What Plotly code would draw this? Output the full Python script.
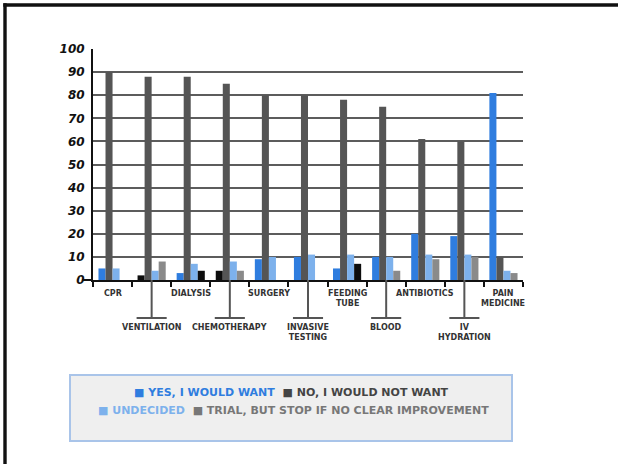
import plotly.graph_objects as go

categories = ["CPR", "VENTILATION", "DIALYSIS", "CHEMOTHERAPY", "SURGERY",
              "INVASIVE<br>TESTING", "FEEDING<br>TUBE", "BLOOD", "ANTIBIOTICS",
              "IV<br>HYDRATION", "PAIN<br>MEDICINE"]
yes_vals = [5, 2, 3, 4, 9, 10, 5, 10, 20, 19, 81]
no_vals = [90, 88, 88, 85, 80, 80, 78, 75, 61, 60, 10]
undecided_vals = [5, 4, 7, 8, 10, 11, 11, 10, 11, 11, 4]
trial_vals = [0, 8, 4, 4, 0, 0, 7, 4, 9, 10, 3]
y_ticks = [0, 10, 20, 30, 40, 50, 60, 70, 80, 90, 100]

C_YES = "#2f7ddf"
C_NO = "#555555"
C_UND = "#7db1ec"
C_TRIAL = "#8a8a8a"
C_BLACK = "#0d0d0d"

# some bars render black in the reference
black_yes = {1, 3}
black_trial = {2, 6}
yes_colors = [C_BLACK if i in black_yes else C_YES for i in range(len(categories))]
trial_colors = [C_BLACK if i in black_trial else C_TRIAL for i in range(len(categories))]

# plot-area geometry (pixels)
L, R, T, B = 93, 523, 49, 280
W, H = 618, 464


def px2x(px):
    return (px - L) / (R - L)


def py2y(py):
    return (B - py) / (B - T)


fig = go.Figure()
for name, vals, col in [("YES, I WOULD WANT", yes_vals, yes_colors),
                        ("NO, I WOULD NOT WANT", no_vals, C_NO),
                        ("UNDECIDED", undecided_vals, C_UND),
                        ("TRIAL, BUT STOP IF NO CLEAR IMPROVEMENT", trial_vals, trial_colors)]:
    fig.add_trace(go.Bar(x=categories, y=vals, name=name,
                         marker=dict(color=col, line=dict(width=0))))

shapes = []
annotations = []
lbl_font = dict(family="DejaVu Sans", size=8, color="#333333", weight="bold")
for i, cat in enumerate(categories):
    if i % 2 == 0:
        annotations.append(dict(x=i, xref="x", y=0, yref="paper", yanchor="top",
                                yshift=-7, text=cat, showarrow=False, font=lbl_font,
                                align="center"))
    else:
        shapes.append(dict(type="line", xref="x", yref="paper", x0=i, x1=i,
                           y0=0, y1=py2y(318), line=dict(color="#555555", width=2)))
        shapes.append(dict(type="line", xref="x", yref="paper", x0=i - 0.385, x1=i + 0.385,
                           y0=py2y(318), y1=py2y(318), line=dict(color="#555555", width=2)))
        annotations.append(dict(x=i, xref="x", y=py2y(321), yref="paper", yanchor="top",
                                text=cat, showarrow=False, font=lbl_font, align="center"))

# small extension of the zero line to the left
shapes.append(dict(type="line", xref="paper", yref="paper", x0=px2x(82), x1=0,
                   y0=0, y1=0, line=dict(color="#111111", width=2)))

# legend box
shapes.append(dict(type="rect", xref="paper", yref="paper",
                   x0=px2x(70), x1=px2x(512), y0=py2y(375), y1=py2y(441),
                   fillcolor="#efefef", line=dict(color="#a9c4e9", width=2), layer="below"))

# outer frame (top and left) as filled strips
shapes.append(dict(type="rect", xref="paper", yref="paper",
                   x0=px2x(3.3), x1=px2x(660), y0=py2y(3.3), y1=py2y(6.7),
                   fillcolor="#111111", line=dict(width=0)))
shapes.append(dict(type="rect", xref="paper", yref="paper",
                   x0=px2x(3.3), x1=px2x(6.7), y0=py2y(3.3), y1=py2y(500),
                   fillcolor="#111111", line=dict(width=0)))

leg_font = dict(family="DejaVu Sans", size=11, weight="bold")
line1 = (f"<span style='color:{C_YES}'>■ YES, I WOULD WANT</span>  "
         f"<span style='color:#444444'>■ NO, I WOULD NOT WANT</span>")
line2 = (f"<span style='color:{C_UND}'>■ UNDECIDED</span>  "
         f"<span style='color:#777777'>■ TRIAL, BUT STOP IF NO CLEAR IMPROVEMENT</span>")
annotations.append(dict(x=px2x(291), y=py2y(401), xref="paper", yref="paper",
                        text=line1, showarrow=False, font=leg_font))
annotations.append(dict(x=px2x(293), y=py2y(419), xref="paper", yref="paper",
                        text=line2, showarrow=False, font=leg_font))

fig.update_layout(
    width=W, height=H,
    margin=dict(l=L, r=W - R, t=T, b=H - B),
    paper_bgcolor="white", plot_bgcolor="white",
    barmode="group", bargap=0.28, bargroupgap=0,
    showlegend=False,
    shapes=shapes, annotations=annotations,
    xaxis=dict(type="category", showticklabels=False, showgrid=False,
               tickson="boundaries", ticks="outside", ticklen=5, tickwidth=1.5,
               tickcolor="#111111", showline=True, linecolor="#111111", linewidth=2,
               range=[-0.5, len(categories) - 0.5]),
    yaxis=dict(range=[0, 100], tickvals=y_ticks, showgrid=True, gridcolor="#5c5c5c",
               gridwidth=2, zeroline=False, showline=True, linecolor="#111111",
               linewidth=2, ticks="", ticklabelstandoff=4,
               tickfont=dict(family="DejaVu Sans", size=12, color="#111111",
                             weight="bold", style="italic")),
)

fig.write_html("out.html")
